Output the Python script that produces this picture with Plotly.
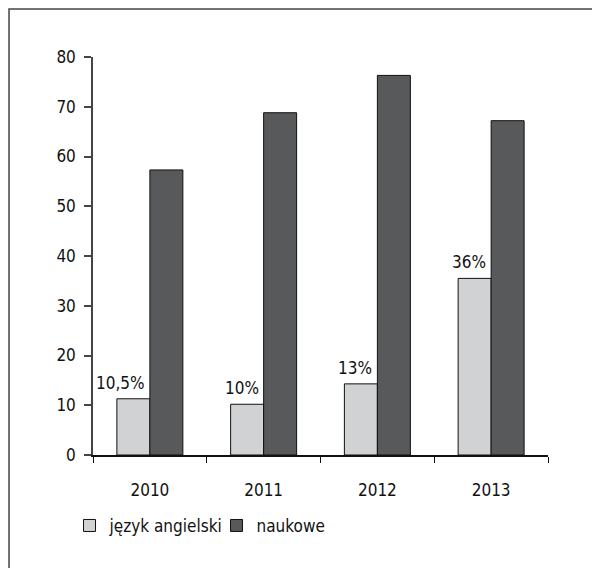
import plotly.graph_objects as go

years = ["2010", "2011", "2012", "2013"]
english = [11.3, 10.2, 14.3, 35.5]
english_labels = ["10,5%", "10%", "13%", "36%"]
science = [57.3, 68.8, 76.3, 67.2]
y_ticks = [0, 10, 20, 30, 40, 50, 60, 70, 80]

FONT = "DejaVu Sans Condensed, Liberation Sans Narrow, Roboto, sans-serif"

fig = go.Figure()
fig.add_trace(go.Bar(
    x=years, y=english, name="język angielski",
    marker=dict(color="#d1d2d4", line=dict(color="#111111", width=1)),
))
fig.add_trace(go.Bar(
    x=years, y=science, name="naukowe",
    marker=dict(color="#58595b", line=dict(color="#111111", width=1)),
))

# labels above the light bars; x is the category index of each year
annotations = [
    dict(x=i, y=val, text=lab, xref="x", yref="y", showarrow=False,
         xanchor="right", yanchor="bottom", xshift=-3, yshift=4,
         font=dict(family=FONT, size=17, color="#111111"))
    for i, (val, lab) in enumerate(zip(english, english_labels))
]

# outer frame: only top and left edges fall inside the visible page
frame_path = "M -0.1846,-0.6 L -0.1846,1.1206 L 1.4,1.1206"

fig.update_layout(
    width=600, height=568,
    margin=dict(l=85, r=60, t=49, b=121),
    paper_bgcolor="white", plot_bgcolor="white",
    barmode="group", bargap=0.42, bargroupgap=0,
    font=dict(family=FONT, size=17, color="#111111"),
    showlegend=True,
    legend=dict(orientation="h", x=-0.0516, y=-0.133, xanchor="left", yanchor="top",
                font=dict(family=FONT, size=17, color="#111111"),
                itemwidth=30, entrywidth=102, traceorder="normal"),
    annotations=annotations,
    shapes=[dict(type="path", xref="paper", yref="paper", path=frame_path,
                 line=dict(color="#444444", width=1.5), layer="below")],
)
fig.update_xaxes(
    type="category", showline=True, linecolor="#111111", linewidth=2,
    ticks="outside", tickson="boundaries", ticklen=6, tickcolor="#111111", tickwidth=1,
    showgrid=False, zeroline=False, ticklabelstandoff=19,
)
fig.update_yaxes(
    range=[0, 80], tickvals=y_ticks, showline=True, linecolor="#444444", linewidth=1.5,
    ticks="outside", ticklen=7, tickcolor="#444444", tickwidth=1.5,
    showgrid=False, zeroline=False, ticklabelstandoff=5,
)

fig.write_html("out.html")
